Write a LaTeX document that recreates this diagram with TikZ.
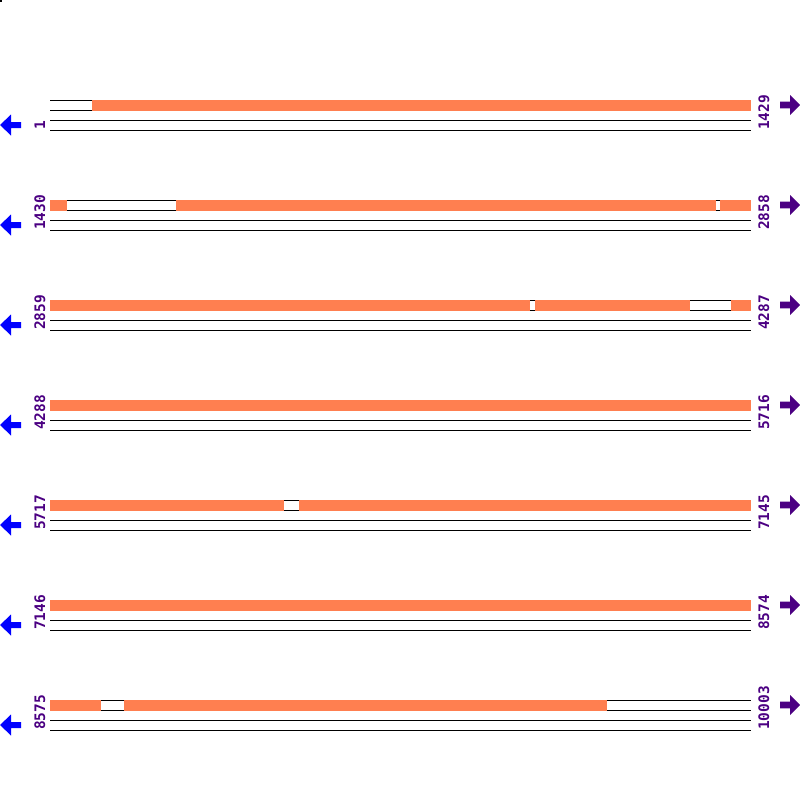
\documentclass[tikz,border=0pt]{standalone}
\usepackage{fontspec}
\newfontfamily\labfont{DejaVu Sans Mono}
\definecolor{barc}{HTML}{FF7F50}
\definecolor{labc}{HTML}{4B0082}
\tikzset{
  seg/.style={fill=barc, draw=none},
  rule/.style={draw=black, line width=1pt},
  lbl/.style={rotate=90, anchor=base west, inner sep=0pt, text=labc, font=\labfont\bfseries\fontsize{14.5}{14.5}\selectfont},
  larrow/.style={fill=blue, draw=none},
  rarrow/.style={fill=labc, draw=none}
}
\newcommand\genrow[5]{%
  \begin{scope}[shift={(0,#1)}]
    \foreach \yy in {0.5,10.5,20.5,30.5} \draw[rule] (50,\yy) -- (751,\yy);
    \foreach \s/\e in {#4} \fill[seg] (\s,0) rectangle (\e,11);
    \node[lbl] (L#5) at (45,30) {#2};
    \node[lbl] (R#5) at (769,30) {#3};
    \fill[larrow] (0,25) -- (11,14.5) -- (11,22) -- (21,22) -- (21,28) -- (11,28) -- (11,35.5) -- cycle;
    \fill[rarrow] (800,5) -- (790,-5) -- (790,1.7) -- (780,1.7) -- (780,8.3) -- (790,8.3) -- (790,15) -- cycle;
  \end{scope}}
\begin{document}
\begin{tikzpicture}[x=1pt,y=-1pt]
\useasboundingbox (0,0) rectangle (800,800);
\fill[black] (0,0) rectangle (2,2);
\genrow{100}{1}{1429}{92/751}{a}
\genrow{200}{1430}{2858}{50/67,176/716,720/751}{b}
\genrow{300}{2859}{4287}{50/530,535/690,731/751}{c}
\genrow{400}{4288}{5716}{50/751}{d}
\genrow{500}{5717}{7145}{50/284,299/751}{e}
\genrow{600}{7146}{8574}{50/751}{f}
\genrow{700}{8575}{10003}{50/101,124/607}{g}
\end{tikzpicture}
\end{document}
